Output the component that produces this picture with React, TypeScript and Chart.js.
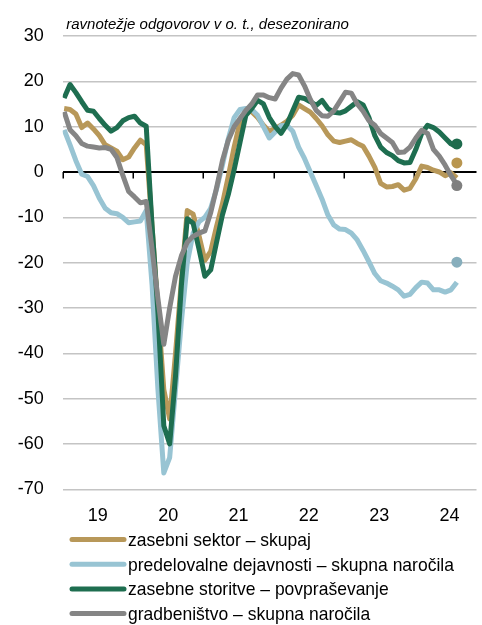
import React, { useEffect, useRef } from 'react';
import { Chart, registerables } from 'chart.js';

Chart.register(...registerables);

const titleText = 'ravnotežje odgovorov v o. t., desezonirano';
const yearLabels = ['19', '20', '21', '22', '23', '24'];
const yearBoundaries = [0, 12, 24, 36, 48, 60];
const monthOffset = 0.25;

const seriesLabels = [
  'zasebni sektor – skupaj',
  'predelovalne dejavnosti – skupna naročila',
  'zasebne storitve – povpraševanje',
  'gradbeništvo – skupna naročila',
];

const zasebniSektor = [
  14, 13.8, 12.8, 9.8, 10.8, 9.5, 8, 6, 5.3, 4.6, 2.7, 3.3,
  5.3, 7, 6, -12, -30, -48, -54.5, -40, -24, -8.5, -9.3, -14,
  -19.5, -17.5, -12, -7, -1, 5.5, 11, 13.4, 13.3, 12, 10.3, 9,
  9.6, 10.3, 11.2, 12.5, 14.8, 14, 13.2, 11.8, 10.2, 8.2, 6.8, 6.5,
  6.8, 7.1, 6.3, 5.7, 3.5, 1, -2.5, -3.3, -3.2, -2.8, -4, -3.6,
  -1.5, 1.3, 1, 0.4, 0, -0.8, -0.2, -1.3,
];

const predelovalne = [
  9.3, 6, 2.5, -0.5, -1, -3, -5.8, -8, -9, -9.2, -10, -11.2,
  -11, -10.8, -8.5, -25, -48, -66.4, -63, -48, -33, -20, -13.5, -11,
  -10, -8, -3.8, 1.5, 7.3, 12, 13.8, 14, 13.8, 12.5, 10, 7.5,
  8.8, 10.2, 10.3, 9, 5.5, 3, 0, -3, -6, -9.5, -11.7, -12.6,
  -12.7, -13.5, -15, -17.3, -19.8, -22.4, -24, -24.5, -25.2, -26, -27.4, -27,
  -25.5, -24.3, -24.5, -26, -26, -26.5, -26, -24.3,
];

const storitve = [
  16.3, 19.3, 17.5, 15.5, 13.6, 13.4, 11.8, 10.3, 9, 9.8, 11.3, 12,
  12.3, 10.8, 10.1, -12, -31, -56, -60, -45, -25, -10.3, -11.3, -17,
  -23, -21.6, -15.5, -9.5, -5, 0.5, 6.5, 12.5, 14, 15.8, 15, 12,
  10, 8.5, 10.5, 13.5, 16.5, 16.2, 15.5, 14.7, 15.8, 14, 13.2, 13,
  13.5, 14.5, 15.5, 14.8, 12, 8, 5.5, 4.3, 3.6, 2.5, 2, 2.1,
  5, 8.5, 10.3, 9.8, 8.8, 7.5, 6.2, 5.5,
];

const gradbenistvo = [
  13.3, 9.3, 8, 6.3, 5.7, 5.5, 5.3, 5.4, 5, 3.2, -0.7, -4.3,
  -5.5, -6.8, -6.5, -17, -28, -38, -30, -23, -18.5, -15.5, -14.2, -13.5,
  -13, -9, -3.5, 2.5, 7, 10, 11.8, 13.6, 15, 17, 17, 16.4,
  16.1, 18.5, 20.5, 21.7, 21.4, 19, 16, 13.6, 12.4, 12.3, 13.5, 15.5,
  17.6, 17.4, 15, 13.4, 11.3, 10.3, 8.5, 7.5, 6.5, 4.3, 4.4, 5.5,
  7.5, 9.2, 8.5, 5, 3.5, 1.5, -0.8, -2.8,
];

const latestDots = [2.0, -19.9, 6.2, -3.0];

const lineColors = ['#B89859', '#98C4D3', '#1E6E50', '#858585'];
const dotColors = ['#B9964F', '#87AEBC', '#1E6B4D', '#7F7F7F'];

const FONT = '"Liberation Sans", Arial, sans-serif';

export default function App() {
  const ref = useRef<HTMLCanvasElement>(null);

  useEffect(() => {
    document.body.style.margin = '0';
    const canvas = ref.current;
    if (!canvas) return;

    const series = [zasebniSektor, predelovalne, storitve, gradbenistvo];
    const toXY = (arr: number[]) => arr.map((v, i) => ({ x: i + monthOffset, y: v }));
    const orders = [3, 2, 1, 0];

    const lineSets = series.map((arr, k) => ({
      label: seriesLabels[k],
      data: toXY(arr),
      borderColor: lineColors[k],
      backgroundColor: lineColors[k],
      borderWidth: 5,
      pointRadius: 0,
      tension: 0,
      fill: false,
      borderJoinStyle: 'round' as const,
      borderCapStyle: 'butt' as const,
      order: orders[k],
    }));

    const lastX = series[0].length - 1 + monthOffset;
    const dotSets = latestDots.map((v, k) => ({
      label: 'dot' + k,
      data: [{ x: lastX, y: v }],
      showLine: false,
      pointRadius: 5.5,
      pointHoverRadius: 5.5,
      pointBackgroundColor: dotColors[k],
      pointBorderColor: dotColors[k],
      pointBorderWidth: 0,
      borderColor: dotColors[k],
      backgroundColor: dotColors[k],
      order: -1,
    }));

    const zeroTicks = {
      id: 'zeroTicks',
      beforeDatasetsDraw(chart: any) {
        const { ctx, scales } = chart;
        const y0 = scales.y.getPixelForValue(0);
        ctx.save();
        ctx.strokeStyle = '#000';
        ctx.lineWidth = 1.5;
        yearBoundaries.forEach((b) => {
          const px = Math.round(scales.x.getPixelForValue(b)) + 0.25;
          ctx.beginPath();
          ctx.moveTo(px, y0);
          ctx.lineTo(px, y0 + 6.5);
          ctx.stroke();
        });
        ctx.restore();
      },
    };

    const titleAndLegend = {
      id: 'titleAndLegend',
      afterDraw(chart: any) {
        const { ctx, chartArea } = chart;
        ctx.save();
        ctx.fillStyle = '#000';
        ctx.font = 'italic 15px ' + FONT;
        ctx.textBaseline = 'alphabetic';
        ctx.textAlign = 'left';
        ctx.fillText(titleText, chartArea.left + 3.5, 28.5);

        const rowStart = 539.5;
        const rowGap = 24.7;
        const stretch = 1.1;
        ctx.font = '17.5px ' + FONT;
        ctx.textBaseline = 'middle';
        seriesLabels.forEach((lab, k) => {
          const y = rowStart + k * rowGap;
          ctx.strokeStyle = lineColors[k];
          ctx.lineWidth = 5;
          ctx.lineCap = 'round';
          ctx.beginPath();
          ctx.moveTo(72, y);
          ctx.lineTo(124, y);
          ctx.stroke();
          ctx.save();
          ctx.translate(128, y + 1);
          ctx.scale(1, stretch);
          ctx.fillStyle = '#000';
          ctx.fillText(lab, 0, 0);
          ctx.restore();
        });
        ctx.restore();
      },
    };

    const chart = new Chart(canvas, {
      type: 'line',
      data: { datasets: [...lineSets, ...dotSets] as any },
      options: {
        animation: false,
        responsive: false,
        maintainAspectRatio: false,
        layout: { padding: { top: 36, left: 0, right: 0, bottom: 0 } },
        plugins: {
          legend: { display: false },
          title: { display: false },
          tooltip: { enabled: false },
        },
        scales: {
          x: {
            type: 'linear',
            min: 0,
            max: 70.6,
            afterBuildTicks: (scale: any) => {
              scale.ticks = yearBoundaries.map((b) => ({ value: b + 6 }));
            },
            afterFit: (scale: any) => {
              scale.height = 135.7;
            },
            ticks: {
              autoSkip: false,
              maxRotation: 0,
              minRotation: 0,
              padding: 8,
              color: '#000',
              font: { family: FONT, size: 18 },
              callback: (_v: any, idx: number) => yearLabels[idx],
            },
            grid: { display: false },
            border: { display: false },
          },
          y: {
            type: 'linear',
            min: -70,
            max: 30,
            afterFit: (scale: any) => {
              scale.width = 62.7;
            },
            ticks: {
              stepSize: 10,
              padding: 19,
              color: '#000',
              font: { family: FONT, size: 18 },
            },
            grid: {
              drawTicks: false,
              color: (c: any) => (c.tick && c.tick.value === 0 ? '#000' : '#C4C4C4'),
              lineWidth: (c: any) => (c.tick && c.tick.value === 0 ? 2 : 1.5),
            },
            border: { display: false },
          },
        },
      },
      plugins: [zeroTicks, titleAndLegend],
    });

    return () => chart.destroy();
  }, []);

  return (
    <div style={{ width: 482, height: 625 }}>
      <canvas ref={ref} width={482} height={625} style={{ display: 'block', width: 482, height: 625 }} />
    </div>
  );
}
